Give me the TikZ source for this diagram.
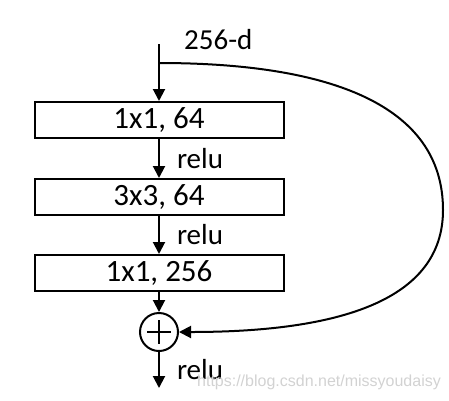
\documentclass[tikz,border=0pt]{standalone}
\usepackage{fontspec}
\setmainfont{Carlito}
\newfontfamily\markfont{Liberation Sans}
\usetikzlibrary{arrows.meta, positioning, calc}

\tikzset{
    layer/.style={draw, line width=2pt, minimum width=249pt, minimum height=36pt, inner sep=0pt, font=\fontsize{31}{33}\selectfont},
    flow/.style={line width=2pt, -{Triangle[length=12pt, width=12pt]}},
    note/.style={font=\fontsize{29}{31}\selectfont, inner sep=0pt}
}

\begin{document}
\begin{tikzpicture}[x=1pt, y=-1pt]
    \useasboundingbox (0,0) rectangle (449,400);

    \coordinate (in) at (159,44);
    \coordinate (split) at (159,63);
    \node[layer] (conv1) at (159,120) {1x1, 64};
    \node[layer, below=39pt of conv1] (conv2) {3x3, 64};
    \node[layer, below=38pt of conv2] (conv3) {1x1, 256};
    \node[draw, circle, line width=2pt, minimum size=38pt, inner sep=0pt] (add) at (159,332) {};
    \coordinate (out) at (159,388);

    \draw[line width=2pt] (add.center) +(-12,0) -- +(12,0) +(0,-12) -- +(0,12);

    \node[note, anchor=west] (dim) at (184,40) {256-d};

    \draw[flow] (in) -- (conv1);
    \draw[flow] (conv1) -- node[note, right=17pt] {relu} (conv2);
    \draw[flow] (conv2) -- node[note, right=17pt] {relu} (conv3);
    \draw[flow] (conv3) -- (add);
    \draw[flow] (add) -- node[note, right=17pt] {relu} (out);

    % shortcut
    \draw[flow] (split) .. controls (330,63) and (443,105) .. (443,210) .. controls (443,300) and (340,332) .. (add.east);

    \node[text=gray!35, font=\markfont\fontsize{16}{18}\selectfont] (mark) at (319,382) {https://blog.csdn.net/missyoudaisy};
\end{tikzpicture}
\end{document}
